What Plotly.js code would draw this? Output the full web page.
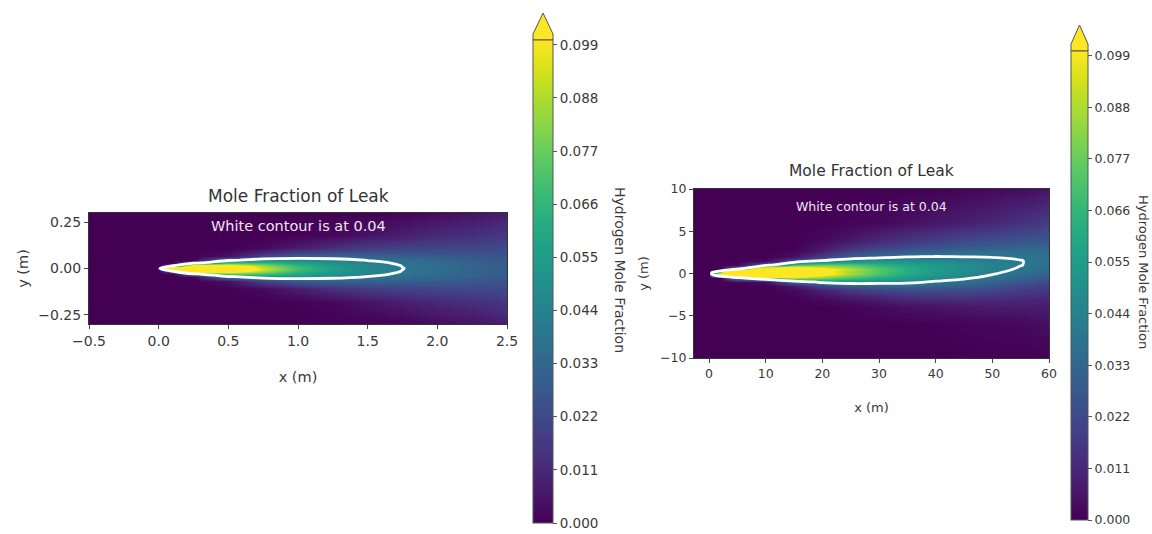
<!DOCTYPE html>
<html>
<head>
<meta charset="utf-8">
<script src="https://cdn.plot.ly/plotly-3.0.1.min.js"></script>
<style>html,body{margin:0;padding:0;background:#fff;}#chart{width:1152px;height:534px;}</style>
</head>
<body>
<div id="chart"></div>
<script>
// ---------- DATA ----------
// Left panel: small leak, x in m, y in m
const leftX = [-0.5, 0, 0.1, 0.25, 0.5, 0.75, 1.0, 1.25, 1.5, 1.75, 2.0, 2.25, 2.5];
const leftY = [-0.3, -0.18, -0.11, -0.07, -0.045, -0.03, -0.015, 0, 0.015, 0.03, 0.045, 0.07, 0.11, 0.18, 0.3];
const leftZ = [
  [0,0,0,0,0,0,0,0,0,0.001,0.003,0.005,0.008],
  [0,0,0,0,0,0,0.0005,0.002,0.005,0.008,0.011,0.013,0.016],
  [0,0,0,0,0,0.002,0.0075,0.013,0.017,0.019,0.0206,0.021,0.022],
  [0,0,0,0,0.004,0.019,0.028,0.031,0.031,0.030,0.0287,0.0268,0.0251],
  [0,0,0,0.001,0.036,0.048,0.048,0.044,0.0395,0.0356,0.0328,0.0297,0.0273],
  [0,0,0,0.032,0.072,0.069,0.059,0.050,0.0433,0.0381,0.0345,0.031,0.0282],
  [0,0,0.031,0.144,0.119,0.087,0.067,0.0545,0.0458,0.0397,0.0356,0.0317,0.0288],
  [0,0,0.5,0.28,0.14,0.093,0.070,0.056,0.0467,0.0402,0.036,0.032,0.029],
  [0,0,0.031,0.144,0.119,0.087,0.067,0.0545,0.0458,0.0397,0.0356,0.0317,0.0288],
  [0,0,0,0.032,0.072,0.069,0.059,0.050,0.0433,0.0381,0.0345,0.031,0.0282],
  [0,0,0,0.001,0.036,0.048,0.048,0.044,0.0395,0.0356,0.0328,0.0297,0.0273],
  [0,0,0,0,0.004,0.019,0.028,0.031,0.031,0.030,0.0287,0.0268,0.0251],
  [0,0,0,0,0,0.002,0.0075,0.013,0.017,0.019,0.0206,0.021,0.022],
  [0,0,0,0,0,0,0.0005,0.002,0.005,0.008,0.011,0.013,0.016],
  [0,0,0,0,0,0,0,0,0,0.001,0.003,0.005,0.008]
];
// Right panel: large leak
const rightX = [-2.65, 0, 0.5, 2, 5, 10, 15, 20, 25, 30, 35, 40, 45, 50, 55, 58, 60];
const rightY = [-10, -6, -4, -3, -2, -1.5, -1, -0.5, 0, 0.5, 1, 1.5, 2, 2.5, 3, 4, 6, 10];
const rightZ = [
  [0,0,0,0,0,0,0,0,0,0,0,0,0,0,0,0,0.0005],
  [0,0,0,0,0,0,0,0,0,0,0.0002,0.0005,0.001,0.0015,0.002,0.003,0.004],
  [0,0,0,0,0,0,0,0,0.0008,0.002,0.004,0.005,0.006,0.007,0.007,0.0075,0.0078],
  [0,0,0,0,0,0,0,0.002,0.005,0.008,0.011,0.012,0.013,0.012,0.011,0.0105,0.0102],
  [0,0,0,0,0,0,0.002,0.009,0.016,0.020,0.023,0.023,0.023,0.021,0.018,0.0165,0.0158],
  [0,0,0,0,0,0,0.006,0.020,0.028,0.031,0.033,0.031,0.029,0.026,0.0215,0.0196,0.0187],
  [0,0,0,0,0.001,0.003,0.029,0.044,0.047,0.045,0.043,0.0385,0.0355,0.031,0.0265,0.0241,0.0229],
  [0,0,0,0,0.036,0.064,0.086,0.080,0.070,0.061,0.054,0.047,0.042,0.037,0.0313,0.0286,0.027],
  [0,0,0.05,0.11,0.44,0.217,0.142,0.107,0.086,0.072,0.061,0.053,0.047,0.041,0.0355,0.0326,0.0308],
  [0,0,0,0,0.042,0.154,0.133,0.107,0.088,0.074,0.063,0.0555,0.049,0.0438,0.0385,0.0357,0.034],
  [0,0,0,0,0.002,0.030,0.072,0.079,0.075,0.066,0.059,0.0535,0.0485,0.0444,0.0403,0.0377,0.0361],
  [0,0,0,0,0,0.003,0.023,0.042,0.049,0.0515,0.0505,0.048,0.045,0.0427,0.0403,0.0383,0.037],
  [0,0,0,0,0,0,0.005,0.019,0.030,0.035,0.039,0.0402,0.0397,0.0394,0.0387,0.0375,0.0366],
  [0,0,0,0,0,0,0.001,0.009,0.021,0.026,0.030,0.033,0.035,0.036,0.036,0.0356,0.0352],
  [0,0,0,0,0,0,0,0.006,0.014,0.019,0.023,0.026,0.029,0.031,0.033,0.033,0.033],
  [0,0,0,0,0,0,0,0.002,0.006,0.011,0.015,0.018,0.021,0.023,0.025,0.026,0.027],
  [0,0,0,0,0,0,0,0,0.001,0.002,0.004,0.006,0.008,0.011,0.014,0.016,0.018],
  [0,0,0,0,0,0,0,0,0,0,0,0.0005,0.001,0.002,0.003,0.004,0.005]
];
const contourLevel = 0.04;
const colorMin = 0, colorMax = 0.1;
const cbTicks = [0, 0.011, 0.022, 0.033, 0.044, 0.055, 0.066, 0.077, 0.088, 0.099];
const cbTickText = ["0.000","0.011","0.022","0.033","0.044","0.055","0.066","0.077","0.088","0.099"];
const leftXTicks = [-0.5, 0, 0.5, 1.0, 1.5, 2.0, 2.5];
const leftYTicks = [-0.25, 0, 0.25];
const rightXTicks = [0, 10, 20, 30, 40, 50, 60];
const rightYTicks = [-10, -5, 0, 5, 10];
const plotTitle = "Mole Fraction of Leak";
const noteText = "White contour is at " + contourLevel.toFixed(2);
const cbTitle = "Hydrogen Mole Fraction";

// ---------- LAYOUT HELPERS ----------
const W = 1152, H = 534;
const px = v => v / W;
const py = v => 1 - v / H;
const FONT = "DejaVu Sans, Verdana, sans-serif";
const TXT = "#3a3a3a";

function cbar(left, top, bottom, thick, fs) {
  return {
    x: px(left), xanchor: "left", xpad: 0, thickness: thick, thicknessmode: "pixels",
    y: py(top), yanchor: "top", len: (bottom - top) / H, lenmode: "fraction", ypad: 0,
    outlinewidth: 1, outlinecolor: "#555",
    tickmode: "array", tickvals: cbTicks, ticktext: cbTickText,
    ticks: "outside", ticklen: 4, tickcolor: "#555", tickwidth: 1,
    tickfont: {family: FONT, size: fs, color: TXT}
  };
}

const traces = [
  {type: "heatmap", x: leftX, y: leftY, z: leftZ, xaxis: "x", yaxis: "y",
   colorscale: "Viridis", zmin: colorMin, zmax: colorMax, zsmooth: "best",
   hoverinfo: "skip", colorbar: cbar(533, 40, 523, 20, 13.5)},
  {type: "contour", x: leftX, y: leftY, z: leftZ, xaxis: "x", yaxis: "y",
   autocontour: false, contours: {start: contourLevel, end: contourLevel, size: 0.01, coloring: "none"},
   line: {color: "white", width: 2.8, smoothing: 1.1}, showscale: false, hoverinfo: "skip"},
  {type: "heatmap", x: rightX, y: rightY, z: rightZ, xaxis: "x2", yaxis: "y2",
   colorscale: "Viridis", zmin: colorMin, zmax: colorMax, zsmooth: "best",
   hoverinfo: "skip", colorbar: cbar(1071, 51, 520, 17, 12.5)},
  {type: "contour", x: rightX, y: rightY, z: rightZ, xaxis: "x2", yaxis: "y2",
   autocontour: false, contours: {start: contourLevel, end: contourLevel, size: 0.01, coloring: "none"},
   line: {color: "white", width: 2.8, smoothing: 1.1}, showscale: false, hoverinfo: "skip"}
];

function ax(domain, range, tickvals, fmt, fs, anchor, title, standoff) {
  return {
    domain: domain, range: range, anchor: anchor,
    tickmode: "array", tickvals: tickvals, tickformat: fmt,
    ticks: "outside", ticklen: 4, tickcolor: "#444", tickwidth: 1,
    tickfont: {family: FONT, size: fs, color: TXT},
    showline: true, mirror: true, linecolor: "#333", linewidth: 1,
    showgrid: false, zeroline: false, fixedrange: true,
    title: {text: title, font: {family: FONT, size: fs + 0.5, color: TXT}, standoff: standoff}
  };
}

const layout = {
  width: W, height: H, margin: {l: 0, r: 0, t: 0, b: 0},
  paper_bgcolor: "#fff", plot_bgcolor: "#fff", showlegend: false,
  xaxis: ax([px(89), px(507)], [-0.5, 2.5], leftXTicks, ".1f", 14, "y", "x (m)", 24),
  yaxis: ax([py(324), py(213)], [-0.3, 0.3], leftYTicks, ".2f", 14, "x", "y (m)", 6),
  xaxis2: ax([px(694), px(1049)], [-2.65, 60], rightXTicks, "d", 12.5, "y2", "x (m)", 22),
  yaxis2: ax([py(358), py(189)], [-10, 10], rightYTicks, "d", 12.5, "x2", "y (m)", 8),
  annotations: [
    {text: plotTitle, xref: "paper", yref: "paper", x: px(298), y: py(196), showarrow: false,
     xanchor: "center", yanchor: "middle", font: {family: FONT, size: 17, color: "#333"}},
    {text: plotTitle, xref: "paper", yref: "paper", x: px(871), y: py(171), showarrow: false,
     xanchor: "center", yanchor: "middle", font: {family: FONT, size: 15.5, color: "#333"}},
    {text: noteText, xref: "paper", yref: "paper", x: px(298), y: py(226), showarrow: false,
     xanchor: "center", yanchor: "middle", font: {family: FONT, size: 14.5, color: "#efe6f3"}},
    {text: noteText, xref: "paper", yref: "paper", x: px(871), y: py(207), showarrow: false,
     xanchor: "center", yanchor: "middle", font: {family: FONT, size: 12.5, color: "#efe6f3"}},
    {text: cbTitle, xref: "paper", yref: "paper", x: px(620), y: py(270), showarrow: false, textangle: 90,
     xanchor: "center", yanchor: "middle", font: {family: FONT, size: 14, color: TXT}},
    {text: cbTitle, xref: "paper", yref: "paper", x: px(1144), y: py(272), showarrow: false, textangle: 90,
     xanchor: "center", yanchor: "middle", font: {family: FONT, size: 13, color: TXT}}
  ],
  shapes: [
    {type: "path", xref: "paper", yref: "paper", layer: "above",
     path: `M ${px(533)},${py(40)} L ${px(533)},${py(34)} L ${px(543)},${py(13)} L ${px(553)},${py(34)} L ${px(553)},${py(40)} Z`,
     fillcolor: "#fde725", line: {color: "#555", width: 1}},
    {type: "path", xref: "paper", yref: "paper", layer: "above",
     path: `M ${px(1071)},${py(51)} L ${px(1071)},${py(44)} L ${px(1079.5)},${py(25)} L ${px(1088)},${py(44)} L ${px(1088)},${py(51)} Z`,
     fillcolor: "#fde725", line: {color: "#555", width: 1}}
  ]
};

Plotly.newPlot("chart", traces, layout, {staticPlot: true, displayModeBar: false});
</script>
</body>
</html>
